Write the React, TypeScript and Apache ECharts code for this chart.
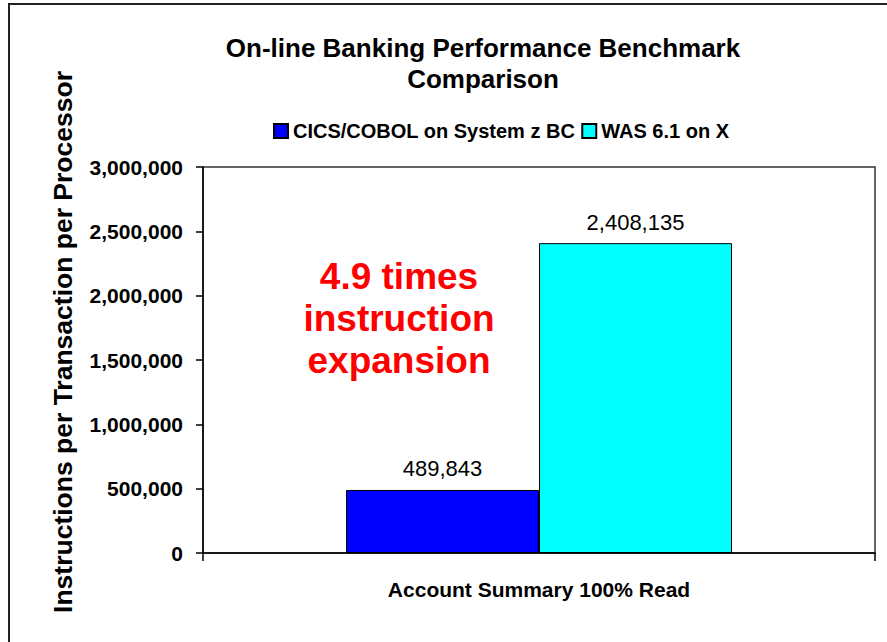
import React, { useEffect, useRef } from "react";
import * as echarts from "echarts";

const categories = ["Account Summary 100% Read"];
const seriesNames = ["CICS/COBOL on System z BC", "WAS 6.1 on X"];
const cicsValues = [489843];
const wasValues = [2408135];
const seriesColors = ["#0000ff", "#00ffff"];
const annotation = ["4.9 times", "instruction", "expansion"];
const titleLines = ["On-line Banking Performance Benchmark", "Comparison"];
const yAxisTitle = "Instructions per Transaction per Processor";

const FONT = "'Liberation Sans', Arial, sans-serif";

export default function App() {
  const ref = useRef<HTMLDivElement>(null);
  useEffect(() => {
    if (!ref.current) return;
    const chart = echarts.init(ref.current, null, { renderer: "svg" });
    const fmt = (v: number) => Number(v).toLocaleString("en-US");
    const data = [cicsValues, wasValues];
    chart.setOption({
      animation: false,
      backgroundColor: "#ffffff",
      textStyle: { fontFamily: FONT },
      title: {
        text: titleLines.join("\n"),
        left: 478,
        top: 27,
        textAlign: "center",
        textStyle: { fontFamily: FONT, fontSize: 26, fontWeight: "bold", color: "#000", lineHeight: 31 },
      },
      legend: {
        data: seriesNames,
        left: 268,
        top: 116,
        itemWidth: 14,
        itemHeight: 14,
        itemGap: 6,
        icon: "rect",
        textStyle: { fontFamily: FONT, fontSize: 20, fontWeight: "bold", color: "#000" },
      },
      grid: {
        left: 203,
        top: 167,
        width: 672,
        height: 386,
        show: true,
        borderColor: "#333",
        borderWidth: 1.5,
        backgroundColor: "#fff",
      },
      xAxis: {
        type: "category",
        data: categories,
        axisLine: { lineStyle: { color: "#000", width: 1.5 } },
        axisTick: { show: true, length: 8, lineStyle: { color: "#000", width: 1.5 } },
        axisLabel: { margin: 26, fontFamily: FONT, fontSize: 21, fontWeight: "bold", color: "#000" },
      },
      yAxis: {
        type: "value",
        min: 0,
        max: 3000000,
        interval: 500000,
        splitLine: { show: false },
        axisLine: { show: true, lineStyle: { color: "#000", width: 1.5 } },
        axisTick: { show: true, length: 7, lineStyle: { color: "#000", width: 1.5 } },
        axisLabel: {
          margin: 20,
          fontFamily: FONT,
          fontSize: 21,
          fontWeight: "bold",
          color: "#000",
          formatter: (v: number) => fmt(v),
        },
      },
      series: seriesNames.map((name, i) => ({
        name,
        type: "bar",
        data: data[i],
        barWidth: 193,
        barGap: "0%",
        itemStyle: { color: seriesColors[i], borderColor: "#000", borderWidth: 1 },
        label: {
          show: true,
          position: "top",
          distance: 10,
          fontFamily: FONT,
          fontSize: 22,
          color: "#000",
          formatter: (p: any) => fmt(p.value),
        },
      })),
      graphic: [
        {
          type: "rect",
          shape: { x: 9, y: 4, width: 1000, height: 800 },
          style: { fill: "none", stroke: "#222", lineWidth: 2 },
          silent: true,
          z: 100,
        },
        {
          type: "text",
          x: 63,
          y: 342,
          rotation: Math.PI / 2,
          style: {
            text: yAxisTitle,
            fontFamily: FONT,
            fontSize: 26.5,
            fontWeight: "bold",
            fill: "#000",
            align: "center",
            verticalAlign: "middle",
          },
        },
        {
          type: "text",
          x: 399,
          y: 318,
          style: {
            text: annotation.join("\n"),
            fontFamily: FONT,
            fontSize: 37,
            fontWeight: "bold",
            fill: "#ff0000",
            align: "center",
            verticalAlign: "middle",
            lineHeight: 42,
          },
          z: 50,
        },
      ],
    });
    return () => chart.dispose();
  }, []);
  return (
    <div
      ref={ref}
      style={{ position: "fixed", left: 0, top: 0, width: 887, height: 642 }}
    />
  );
}
